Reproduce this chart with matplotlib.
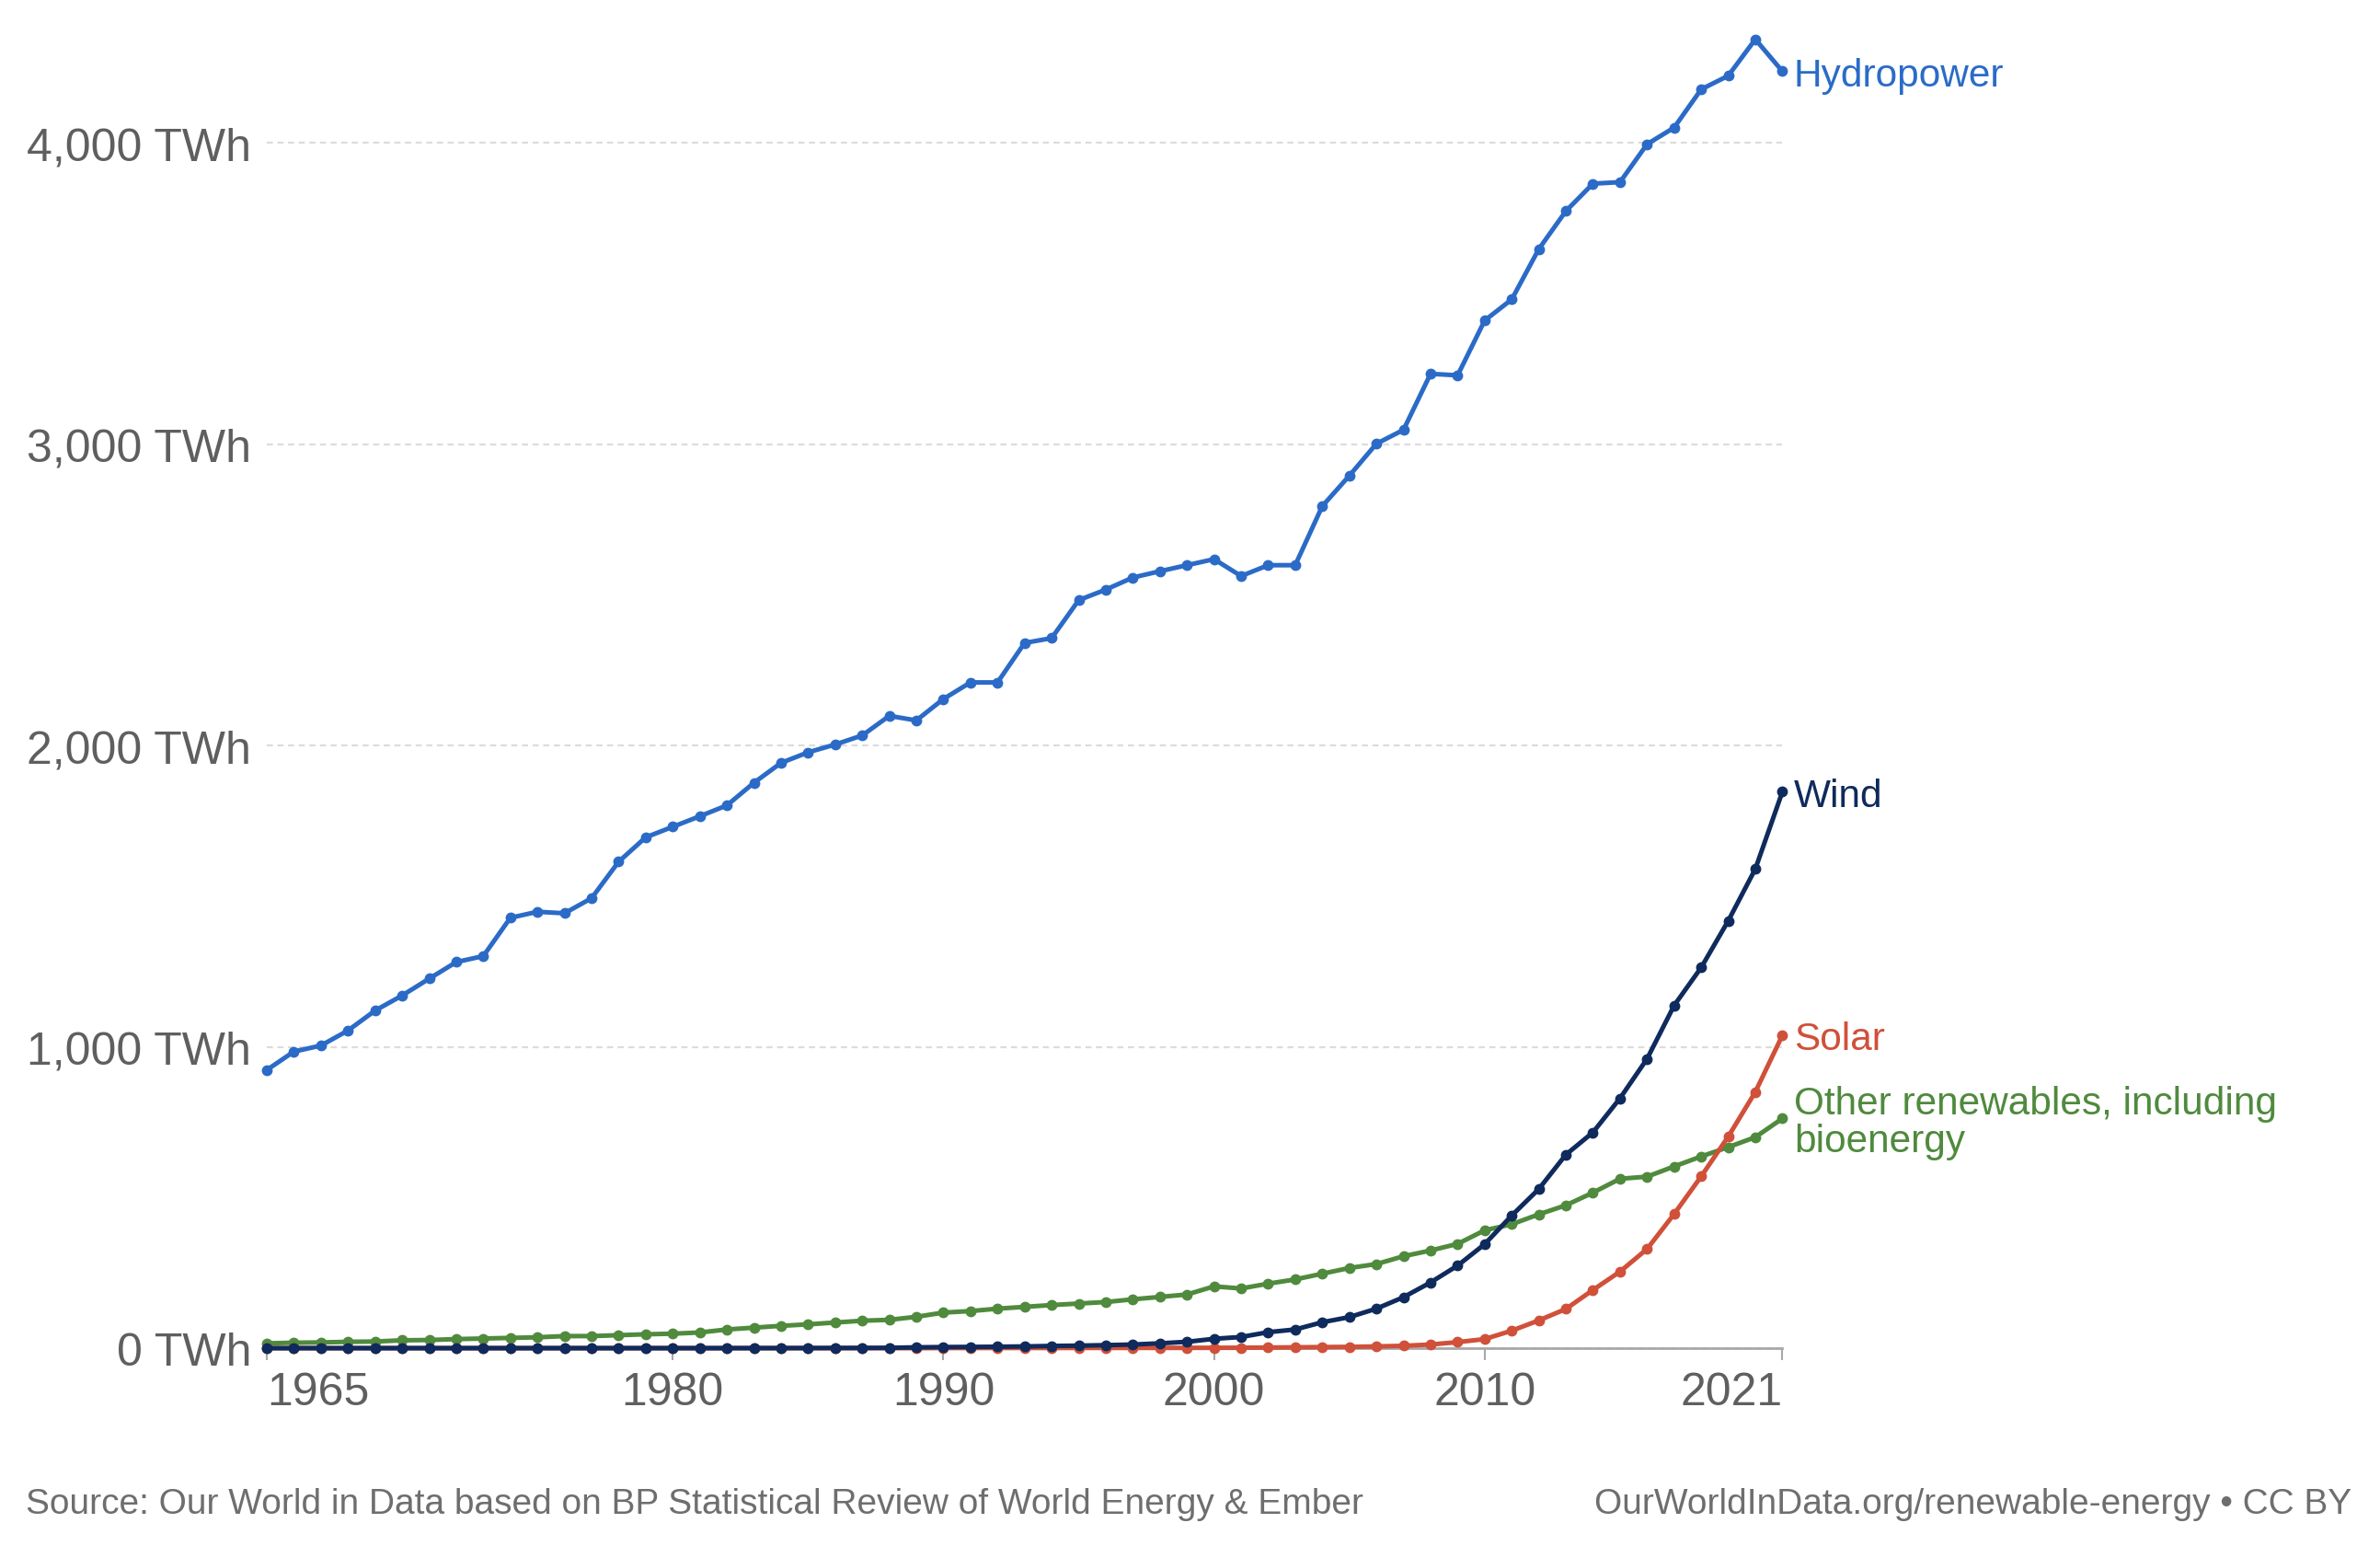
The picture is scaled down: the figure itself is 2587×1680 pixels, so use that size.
#Renewable electricity generation by source, world
import numpy as np
import matplotlib
matplotlib.use("Agg")
import matplotlib.pyplot as plt

#data (TWh)
years = list(range(1965, 2022))

hydropower = [923, 984, 1004, 1054, 1120, 1170, 1226, 1281, 1301, 1428,
              1448, 1443, 1493, 1614, 1695, 1730, 1765, 1801, 1876, 1942,
              1977, 2003, 2033, 2098, 2083, 2154, 2209, 2209, 2340, 2356,
              2482, 2517, 2557, 2578, 2598, 2618, 2562, 2598, 2598, 2794,
              2895, 3001, 3047, 3233, 3228, 3410, 3480, 3647, 3773, 3864,
              3869, 3995, 4050, 4177, 4222, 4343, 4237]

wind = [0, 0, 0, 0, 0, 0, 0, 0, 0, 0,
        0, 0, 0, 0, 0, 0, 0, 0, 0.1, 0.2,
        0.3, 0.5, 0.7, 1.0, 2.7, 3.6, 4.1, 4.7, 5.7, 7.3,
        8.3, 10, 12, 16, 21, 31, 37, 53, 62, 86,
        103, 131, 169, 218, 274, 345, 440, 528, 642, 716,
        829, 960, 1137, 1263, 1418, 1590, 1846]

solar = [0, 0, 0, 0, 0, 0, 0, 0, 0, 0,
         0, 0, 0, 0, 0, 0, 0, 0, 0, 0,
         0, 0, 0, 0, 0, 0.4, 0.5, 0.5, 0.6, 0.6,
         0.7, 0.8, 0.8, 0.9, 1.0, 1.1, 1.4, 2.0, 2.7, 3.6,
         4.2, 5.7, 7.7, 12, 20, 30, 58, 92, 130, 193,
         254, 329, 445, 570, 702, 850, 1038]

other_renewables = [16, 18, 19, 21, 22, 26, 27, 30, 32, 34,
                    36, 40, 40, 43, 46, 48, 52, 62, 68, 74,
                    79, 85, 91, 94, 104, 118, 123, 131, 137, 143,
                    148, 153, 162, 170, 178, 205, 198, 214, 228, 247,
                    266, 279, 305, 324, 346, 391, 411, 444, 474, 516,
                    562, 569, 603, 636, 667, 700, 762]

series_names = ["Other renewables, including\nbioenergy", "Solar", "Wind", "Hydropower"]
series_colors = ["#4f8a3d", "#d0503a", "#0f2a5c", "#2b6bc7"]
series_values = [other_renewables, solar, wind, hydropower]

x_ticks = [1965, 1980, 1990, 2000, 2010, 2021]
y_ticks = [0, 1000, 2000, 3000, 4000]

#figure
fig = plt.figure(figsize=(25.87, 16.81), dpi=100)
plt.rcParams['font.family'] = ['Liberation Sans', 'DejaVu Sans']
ax = fig.add_axes([0.1121, 0.1279, 0.6368, 0.8572])

for name, col, vals in zip(series_names, series_colors, series_values):
    ax.plot(years, vals, color=col, lw=3.6, marker="o", markersize=7.5,
            clip_on=False, zorder=3)
    ax.annotate(name, xy=(years[-1], vals[-1]), xytext=(9, -3),
                textcoords="offset points", ha="left", va="center",
                color=col, fontsize=30.5, linespacing=1.05)

ax.set_xlim(1965, 2021)
ax.set_ylim(0, 4400)

#axis styling
for s in ["top", "right", "left"]:
    ax.spines[s].set_visible(False)
ax.spines["bottom"].set_color("#a8a8a8")
ax.spines["bottom"].set_linewidth(2)
ax.spines["bottom"].set_zorder(1)

ax.set_yticks(y_ticks)
ax.set_yticklabels(["{:,} TWh".format(v) for v in y_ticks])
ax.tick_params(axis="y", length=0, pad=12, labelsize=36, labelcolor="#5f5f5f")
ax.grid(axis="y", color="#dcdcdc", lw=1.6, linestyle=(0, (3, 2.2)))
ax.set_axisbelow(True)

ax.set_xticks(x_ticks)
ax.set_xticklabels([str(v) for v in x_ticks])
ax.tick_params(axis="x", length=9, width=1.5, color="#a8a8a8", pad=9,
               labelsize=36, labelcolor="#5f5f5f")
xl = ax.get_xticklabels()
xl[0].set_ha("left")
xl[-1].set_ha("right")

#footer
fig.text(0.0108, 0.0276,
         "Source: Our World in Data based on BP Statistical Review of World Energy & Ember",
         fontsize=28, color="#6e6e6e", ha="left", va="center")
fig.text(0.988, 0.0276, "OurWorldInData.org/renewable-energy \u2022 CC BY",
         fontsize=28, color="#6e6e6e", ha="right", va="center")

fig.savefig("out.png", dpi=100, facecolor="white")
